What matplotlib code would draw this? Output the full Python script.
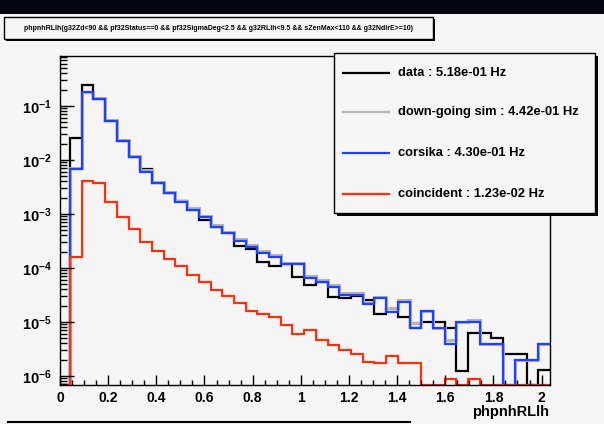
import numpy as np
import matplotlib
matplotlib.use("Agg")
import matplotlib.pyplot as plt
from matplotlib.patches import Rectangle
from matplotlib.lines import Line2D
from matplotlib.ticker import FixedLocator, FuncFormatter, NullFormatter

W, H, DPI = 604, 424, 100

# ---- histogram content (rate per bin, Hz) ----
n_bins = 42
x_lo, x_hi = -0.007, 2.035

data = [0, 2.52e-2, 0.248, 0.135, 5.28e-2, 2.28e-2, 1.12e-2, 6.8e-3, 3.70e-3, 2.42e-3,
        1.70e-3, 1.19e-3, 7.74e-4, 5.82e-4, 4.39e-4, 2.55e-4, 2.22e-4, 1.31e-4, 1.09e-4, 1.16e-4,
        6.73e-5, 4.84e-5, 5.57e-5, 2.86e-5, 2.75e-5, 3.0e-5, 2.55e-5, 1.41e-5, 1.72e-5, 1.25e-5,
        7.64e-6, 1.01e-5, 1.01e-5, 7.64e-6, 1.25e-6, 6.33e-6, 6.33e-6, 4.99e-6, 2.52e-6, 2.52e-6,
        0, 1.29e-6]

downgoing_sim = [0, 6.96e-3, 0.183, 0.139, 5.45e-2, 2.37e-2, 1.17e-2, 6.38e-3, 3.91e-3, 2.57e-3,
                 1.74e-3, 1.26e-3, 9.26e-4, 6.21e-4, 4.69e-4, 3.43e-4, 2.64e-4, 2.06e-4, 1.70e-4, 1.25e-4,
                 1.22e-4, 7.14e-5, 6.04e-5, 4.76e-5, 3.46e-5, 3.42e-5, 2.31e-5, 2.92e-5, 1.79e-5, 2.55e-5,
                 9.36e-6, 1.60e-5, 7.64e-6, 4.73e-6, 9.87e-6, 1.07e-5, 3.86e-6, 3.86e-6, 0, 1.98e-6,
                 1.98e-6, 3.86e-6]

corsika = [0, 6.8e-3, 0.179, 0.135, 5.28e-2, 2.28e-2, 1.12e-2, 6.07e-3, 3.70e-3, 2.42e-3,
           1.63e-3, 1.19e-3, 8.7e-4, 5.82e-4, 4.39e-4, 3.21e-4, 2.48e-4, 1.92e-4, 1.58e-4, 1.16e-4,
           1.16e-4, 6.44e-5, 5.57e-5, 4.39e-5, 3.16e-5, 3.16e-5, 2.13e-5, 2.75e-5, 1.55e-5, 2.38e-5,
           7.64e-6, 1.60e-5, 7.64e-6, 3.86e-6, 9.87e-6, 9.87e-6, 3.86e-6, 3.86e-6, 0, 1.98e-6,
           1.98e-6, 3.86e-6]

coincident = [0, 1.58e-4, 4.14e-3, 3.80e-3, 1.69e-3, 8.69e-4, 5.21e-4, 3.07e-4, 2.06e-4, 1.45e-4,
              1.08e-4, 7.41e-5, 5.57e-5, 3.92e-5, 3.03e-5, 2.22e-5, 1.62e-5, 1.41e-5, 1.22e-5, 8.8e-6,
              6.07e-6, 7.0e-6, 4.72e-6, 3.67e-6, 3.03e-6, 2.55e-6, 1.84e-6, 1.72e-6, 2.38e-6, 1.72e-6,
              1.72e-6, 0, 0, 8.7e-7, 0, 8.7e-7, 0, 0, 0, 0,
              0, 0]

series_labels = ["data : 5.18e-01 Hz", "down-going sim : 4.42e-01 Hz",
                 "corsika : 4.30e-01 Hz", "coincident : 1.23e-02 Hz"]
series_colors = ["#000000", "#b4b4b4", "#2040ff", "#ff3010"]
series_widths = [1.6, 2.2, 1.6, 1.6]

title = ("phpnhRLlh(g32Zd<90 && pf32Status==0 && pf32SigmaDeg<2.5 && "
         "g32RLlh<9.5 && sZenMax<110 && g32NdirE>=10)")
x_label = "phpnhRLlh"
x_major = [0, 0.2, 0.4, 0.6, 0.8, 1.0, 1.2, 1.4, 1.6, 1.8, 2.0]
y_min, y_max = 6.8e-7, 0.85

# ---- style ----
bg = "#f5f5f5"
plt.rcParams["font.family"] = ["Liberation Sans", "DejaVu Sans"]
plt.rcParams["font.weight"] = "bold"
plt.rcParams["mathtext.fontset"] = "custom"
plt.rcParams["mathtext.rm"] = "Liberation Sans:bold"
plt.rcParams["mathtext.bf"] = "Liberation Sans:bold"
plt.rcParams["mathtext.it"] = "Liberation Sans:bold"


def fx(px):
    return px / W


def fy(py):
    return 1.0 - py / H


fig = plt.figure(figsize=(W / DPI, H / DPI), dpi=DPI, facecolor=bg)

# frame of the histogram pad
left, right, top, bottom = 60, 550, 55.7, 385
ax = fig.add_axes([fx(left), fy(bottom), fx(right) - fx(left), fy(top) - fy(bottom)])
ax.set_facecolor(bg)

edges = np.linspace(x_lo, x_hi, n_bins + 1)
for vals, col, lw in zip([data, downgoing_sim, corsika, coincident],
                         series_colors, series_widths):
    v = np.asarray(vals, dtype=float)
    v = np.where(v > 0, v, y_min)  # empty bins sit on the frame floor
    ax.stairs(v, edges, baseline=None, color=col, lw=lw)

ax.set_yscale("log")
ax.set_xlim(0, x_hi)
ax.set_ylim(y_min, y_max)

for s in ax.spines.values():
    s.set_color("black")
    s.set_linewidth(1.0)

# x axis ticks
ax.xaxis.set_major_locator(FixedLocator(x_major))
ax.xaxis.set_minor_locator(FixedLocator(np.arange(0.05, 2.04, 0.05)))
ax.xaxis.set_major_formatter(FuncFormatter(lambda v, p: "%g" % v))
ax.tick_params(axis="x", which="major", direction="in", length=7.2, width=1,
               labelsize=10, pad=4, top=False)
ax.tick_params(axis="x", which="minor", direction="in", length=3.6, width=1, top=False)

# y axis ticks
decades = [-6, -5, -4, -3, -2, -1]
ax.yaxis.set_major_locator(FixedLocator([10.0 ** d for d in decades]))
minor = [m * 10.0 ** d for d in range(-7, 0) for m in range(2, 10)]
ax.yaxis.set_minor_locator(FixedLocator(minor))
ax.yaxis.set_minor_formatter(NullFormatter())
ax.yaxis.set_major_formatter(FuncFormatter(
    lambda v, p: r"$\mathbf{10^{%d}}$" % int(round(np.log10(v)))))
ax.tick_params(axis="y", which="major", direction="in", length=10, width=1,
               labelsize=10.5, pad=6, right=False)
ax.tick_params(axis="y", which="minor", direction="in", length=5, width=1, right=False)
for lab in ax.get_xticklabels() + ax.get_yticklabels():
    lab.set_fontweight("bold")

fig.text(fx(549), fy(412), x_label, ha="right", va="center",
         fontsize=10.5, fontweight="bold")

# top bar
fig.add_artist(Rectangle((0, fy(14)), 1, fy(0) - fy(14), transform=fig.transFigure,
                         facecolor="#05050f", edgecolor="none", zorder=5))

# title box with shadow
tx0, ty0, tx1, ty1 = 4, 17, 433, 39
fig.add_artist(Rectangle((fx(tx0 + 2), fy(ty1 + 2)), fx(tx1) - fx(tx0), fy(ty0) - fy(ty1),
                         transform=fig.transFigure, facecolor="black", edgecolor="none", zorder=5))
fig.add_artist(Rectangle((fx(tx0), fy(ty1)), fx(tx1) - fx(tx0), fy(ty0) - fy(ty1),
                         transform=fig.transFigure, facecolor=bg, edgecolor="black",
                         lw=1, zorder=6))
fig.text(fx((tx0 + tx1) / 2), fy((ty0 + ty1) / 2), title, ha="center", va="center",
         fontsize=5.0, fontweight="bold", zorder=7)

# legend box with shadow
lx0, ly0, lx1, ly1 = 334, 53, 595, 213
fig.add_artist(Rectangle((fx(lx0 + 3), fy(ly1 + 3)), fx(lx1) - fx(lx0), fy(ly0) - fy(ly1),
                         transform=fig.transFigure, facecolor="black", edgecolor="none", zorder=5))
fig.add_artist(Rectangle((fx(lx0), fy(ly1)), fx(lx1) - fx(lx0), fy(ly0) - fy(ly1),
                         transform=fig.transFigure, facecolor=bg, edgecolor="black",
                         lw=1, zorder=6))
entry_y = [73.3, 111.7, 153.3, 194.0]
for yy, lab, col in zip(entry_y, series_labels, series_colors):
    fig.add_artist(Line2D([fx(343), fx(389)], [fy(yy), fy(yy)], transform=fig.transFigure,
                          color=col, lw=1.6, zorder=7))
    fig.text(fx(398), fy(yy), lab, ha="left", va="center", fontsize=9.3,
             fontweight="bold", zorder=7)

# edge of the box below the pad
fig.add_artist(Line2D([fx(8), fx(410)], [fy(422), fy(422)], transform=fig.transFigure,
                      color="black", lw=1.5, zorder=5))

fig.savefig("out.png", dpi=DPI, facecolor=bg)
